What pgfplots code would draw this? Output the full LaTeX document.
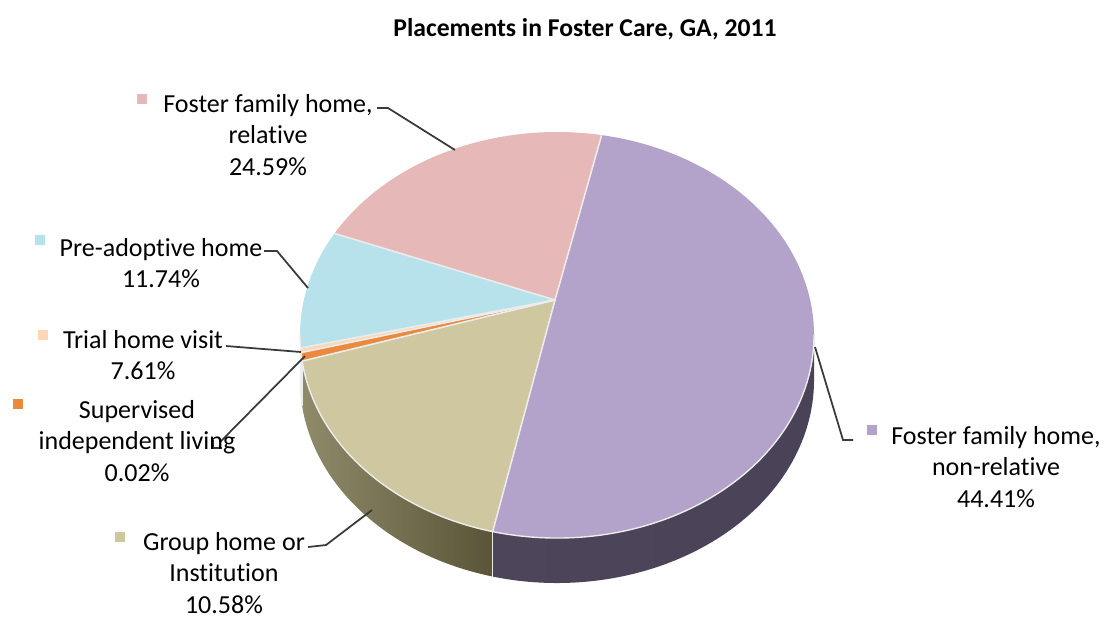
\documentclass[border=0pt]{standalone}
\usepackage{pgfplots}
\pgfplotsset{compat=1.18}
\usepackage{pgfplotstable}
\usepackage{fontspec}
\setmainfont[Ligatures={NoCommon,NoRare,NoDiscretionary}]{Carlito}

\definecolor{pinkc}{HTML}{E6B9B8}
\definecolor{bluec}{HTML}{B7E1EB}
\definecolor{peachc}{HTML}{FCD7B6}
\definecolor{orangec}{HTML}{EA8A3E}
\definecolor{tanc}{HTML}{CEC7A0}
\definecolor{purplec}{HTML}{B3A2C9}
\definecolor{tanL}{HTML}{8F8A69}
\definecolor{tanR}{HTML}{5A5538}
\definecolor{purL}{HTML}{4D4559}
\definecolor{purR}{HTML}{4A4256}
\definecolor{bluL}{HTML}{6F8A90}
\definecolor{orgL}{HTML}{9A5A28}
\definecolor{pchL}{HTML}{A08C78}
\definecolor{pnkL}{HTML}{8A6E6E}
\definecolor{leader}{HTML}{3A3A3A}

% slice shares as drawn (% of the circle), counter-clockwise from the top edge
\pgfplotstableread{
share  top      sideL  sideR
19.44  pinkc    pnkL   pnkL
9.36   bluec    bluL   bluL
0.36   peachc   pchL   pchL
0.67   orangec  orgL   orgL
18.92  tanc     tanL   tanR
51.25  purplec  purL   purR
}\slices
\pgfplotstablecreatecol[create col/expr accum={\pgfmathaccuma + \thisrow{share}}{0}]{cum}{\slices}

\newcommand\labfont{\fontsize{7.4}{9.05}\selectfont}

\begin{document}
\begin{tikzpicture}
\begin{axis}[
  scale only axis,
  width=11.04cm, height=6.19cm,
  xmin=0, xmax=1104, ymin=0, ymax=619,
  hide axis, clip=false,
]
\pgfplotsextra{
  \path (axis cs:0,0) rectangle (axis cs:1104,619);
  \pgfplotstablegetrowsof{\slices}
  \pgfmathtruncatemacro\nlast{\pgfplotsretval-1}
  % side walls (front half only)
  \foreach \i in {0,...,\nlast}{
    \pgfplotstablegetelem{\i}{share}\of{\slices}\let\sh\pgfplotsretval
    \pgfplotstablegetelem{\i}{cum}\of{\slices}\let\cu\pgfplotsretval
    \pgfplotstablegetelem{\i}{sideL}\of{\slices}\edef\cl{\pgfplotsretval}
    \pgfplotstablegetelem{\i}{sideR}\of{\slices}\edef\cr{\pgfplotsretval}
    \pgfmathsetmacro\a{80+3.6*(\cu-\sh)}
    \pgfmathsetmacro\b{80+3.6*\cu}
    \pgfmathsetmacro\sa{max(\a,180)}
    \pgfmathsetmacro\sb{min(\b,360)}
    \pgfmathtruncatemacro\vis{\sb>\sa}
    \ifnum\vis=1
      \pgfmathsetmacro\xa{557+257*cos(\sa)}
      \pgfmathsetmacro\ya{284+203*sin(\sa)}
      \shade[left color=\cl, right color=\cr]
        (axis cs:\xa,\ya) arc[start angle=\sa, end angle=\sb, x radius=2.57cm, y radius=2.03cm]
        -- ++(0cm,-0.45cm) arc[start angle=\sb, end angle=\sa, x radius=2.57cm, y radius=2.03cm] -- cycle;
    \fi
  }
  % top faces
  \foreach \i in {0,...,\nlast}{
    \pgfplotstablegetelem{\i}{share}\of{\slices}\let\sh\pgfplotsretval
    \pgfplotstablegetelem{\i}{cum}\of{\slices}\let\cu\pgfplotsretval
    \pgfplotstablegetelem{\i}{top}\of{\slices}\edef\ct{\pgfplotsretval}
    \pgfmathsetmacro\a{80+3.6*(\cu-\sh)}
    \pgfmathsetmacro\b{80+3.6*\cu}
    \pgfmathsetmacro\xa{557+257*cos(\a)}
    \pgfmathsetmacro\ya{284+203*sin(\a)}
    \fill[\ct] (axis cs:555,319) -- (axis cs:\xa,\ya)
      arc[start angle=\a, end angle=\b, x radius=2.57cm, y radius=2.03cm] -- cycle;
  }
  % thin light edges
  \foreach \i in {0,...,\nlast}{
    \pgfplotstablegetelem{\i}{share}\of{\slices}\let\sh\pgfplotsretval
    \pgfplotstablegetelem{\i}{cum}\of{\slices}\let\cu\pgfplotsretval
    \pgfmathsetmacro\a{80+3.6*(\cu-\sh)}
    \pgfmathsetmacro\xa{557+257*cos(\a)}
    \pgfmathsetmacro\ya{284+203*sin(\a)}
    \draw[white!85!gray, line width=0.45pt] (axis cs:555,319) -- (axis cs:\xa,\ya);
    \pgfmathtruncatemacro\front{(\a>180)&&(\a<360)}
    \ifnum\front=1
      \draw[white!85!gray, line width=0.45pt] (axis cs:\xa,\ya) -- ++(0cm,-0.45cm);
    \fi
  }
  \draw[white!85!gray, line width=0.4pt] (axis cs:300,284)
    arc[start angle=180, end angle=360, x radius=2.57cm, y radius=2.03cm];

  % leader lines
  \draw[leader, line width=0.5pt] (axis cs:377,511) -- (axis cs:388,511) -- (axis cs:455,469);
  \draw[leader, line width=0.5pt] (axis cs:264,368) -- (axis cs:277,368) -- (axis cs:308,331);
  \draw[leader, line width=0.5pt] (axis cs:226,273) -- (axis cs:301,267);
  \draw[leader, line width=0.5pt] (axis cs:305,263) -- (axis cs:228,185) -- (axis cs:220,177);
  \draw[leader, line width=0.5pt] (axis cs:213,179) -- (axis cs:213,171) -- (axis cs:222,171);
  \draw[leader, line width=0.5pt] (axis cs:308,72) -- (axis cs:326,74) -- (axis cs:372,109);
  \draw[leader, line width=0.5pt] (axis cs:815,272) -- (axis cs:843,179) -- (axis cs:853,179);

  % legend keys
  \fill[pinkc]   (axis cs:137,515) rectangle (axis cs:147,525);
  \fill[bluec]   (axis cs:35,374)  rectangle (axis cs:45,384);
  \fill[peachc]  (axis cs:38,279)  rectangle (axis cs:48,289);
  \fill[orangec] (axis cs:13,210)  rectangle (axis cs:23,220);
  \fill[tanc]    (axis cs:115,77)  rectangle (axis cs:125,87);
  \fill[purplec] (axis cs:867,184) rectangle (axis cs:877,194);

  % labels
  \node[align=center, inner sep=0pt, font=\labfont] at (axis cs:268,484) {Foster family home,\\relative\\24.59\%};
  \node[align=center, inner sep=0pt, font=\labfont] at (axis cs:161,356) {Pre-adoptive home\\11.74\%};
  \node[align=center, inner sep=0pt, font=\labfont] at (axis cs:143,264) {Trial home visit\\7.61\%};
  \node[align=center, inner sep=0pt, font=\labfont] at (axis cs:137,178) {Supervised\\independent living\\0.02\%};
  \node[align=center, inner sep=0pt, font=\labfont] at (axis cs:224,46) {Group home or\\Institution\\10.58\%};
  \node[align=center, inner sep=0pt, font=\labfont] at (axis cs:996,152) {Foster family home,\\non-relative\\44.41\%};

  % title
  \node[inner sep=0pt, font=\fontsize{7.3}{8.8}\selectfont\bfseries] at (axis cs:585,590) {Placements in Foster Care, GA, 2011};
}
\end{axis}
\end{tikzpicture}
\end{document}
